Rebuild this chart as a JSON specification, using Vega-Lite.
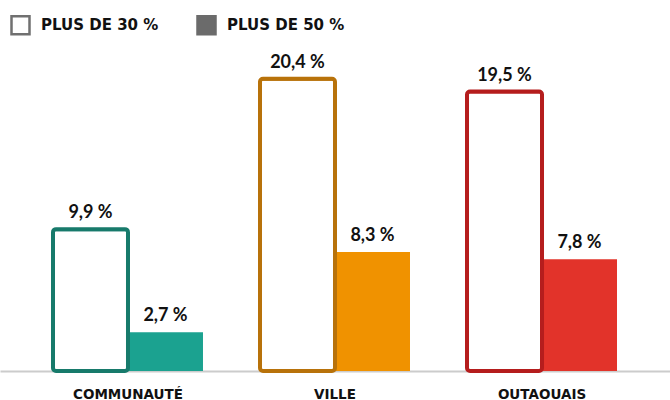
{
  "$schema": "https://vega.github.io/schema/vega-lite/v6.json",
  "width": 670,
  "height": 331,
  "autosize": {"type": "none"},
  "padding": {"left": 0, "right": 0, "top": 40, "bottom": 29},
  "background": "white",
  "config": {"view": {"stroke": null}},
  "data": {
    "values": [
      {"region": "COMMUNAUTÉ", "serie": "PLUS DE 30 %", "valeur": 9.9},
      {"region": "COMMUNAUTÉ", "serie": "PLUS DE 50 %", "valeur": 2.7},
      {"region": "VILLE", "serie": "PLUS DE 30 %", "valeur": 20.4},
      {"region": "VILLE", "serie": "PLUS DE 50 %", "valeur": 8.3},
      {"region": "OUTAOUAIS", "serie": "PLUS DE 30 %", "valeur": 19.5},
      {"region": "OUTAOUAIS", "serie": "PLUS DE 50 %", "valeur": 7.8}
    ]
  },
  "transform": [
    {"calculate": "replace(format(datum.valeur, '.1f'), '.', ',') + ' %'", "as": "etiquette"}
  ],
  "encoding": {
    "x": {
      "field": "region",
      "type": "nominal",
      "sort": ["COMMUNAUTÉ", "VILLE", "OUTAOUAIS"],
      "scale": {"paddingInner": 0.2754, "paddingOuter": 0.256},
      "axis": {
        "title": null,
        "ticks": false,
        "domainColor": "#cccccc",
        "domainWidth": 2,
        "labelFont": "DejaVu Sans",
        "labelFontWeight": "bold",
        "labelFontSize": 13.5,
        "labelColor": "#111111",
        "labelPadding": 16,
        "labelAngle": 0
      }
    },
    "xOffset": {
      "field": "serie",
      "type": "nominal",
      "sort": ["PLUS DE 30 %", "PLUS DE 50 %"],
      "scale": {"paddingInner": 0, "paddingOuter": 0}
    },
    "y": {
      "field": "valeur",
      "type": "quantitative",
      "scale": {"domain": [0, 23.1]},
      "axis": null
    }
  },
  "layer": [
    {
      "transform": [{"filter": "datum.serie == 'PLUS DE 50 %'"}],
      "mark": {"type": "bar"},
      "encoding": {
        "fill": {
          "field": "region",
          "type": "nominal",
          "scale": {"domain": ["COMMUNAUTÉ", "VILLE", "OUTAOUAIS"], "range": ["#1ba290", "#f09200", "#e2332a"]},
          "legend": null
        }
      }
    },
    {
      "transform": [{"filter": "datum.serie == 'PLUS DE 30 %'"}],
      "mark": {"type": "bar", "fill": "white", "strokeWidth": 4, "cornerRadius": 3},
      "encoding": {
        "stroke": {
          "field": "region",
          "type": "nominal",
          "scale": {"domain": ["COMMUNAUTÉ", "VILLE", "OUTAOUAIS"], "range": ["#177a6b", "#b8720a", "#b51d1d"]},
          "legend": null
        }
      }
    },
    {
      "transform": [{"filter": "false"}],
      "mark": {"type": "bar", "strokeWidth": 2.5},
      "encoding": {
        "fill": {
          "field": "serie",
          "type": "nominal",
          "scale": {"domain": ["PLUS DE 30 %", "PLUS DE 50 %"], "range": ["#ffffff", "#6b6b6b"]},
          "legend": {
            "title": null,
            "orient": "none",
            "legendX": 10,
            "legendY": -25.5,
            "direction": "horizontal",
            "symbolType": "square",
            "symbolSize": 324,
            "symbolStrokeWidth": 2.5,
            "symbolOpacity": 1,
            "labelFont": "DejaVu Sans",
            "labelFontWeight": "bold",
            "labelFontSize": 15,
            "labelColor": "#111111",
            "labelOffset": 10,
            "columnPadding": 33
          }
        },
        "stroke": {
          "field": "serie",
          "type": "nominal",
          "scale": {"domain": ["PLUS DE 30 %", "PLUS DE 50 %"], "range": ["#707070", "#6b6b6b"]},
          "legend": {
            "title": null,
            "orient": "none",
            "legendX": 10,
            "legendY": -25.5,
            "direction": "horizontal",
            "symbolType": "square",
            "symbolSize": 324,
            "symbolStrokeWidth": 2.5,
            "symbolOpacity": 1,
            "labelFont": "DejaVu Sans",
            "labelFontWeight": "bold",
            "labelFontSize": 15,
            "labelColor": "#111111",
            "labelOffset": 10,
            "columnPadding": 33
          }
        }
      }
    },
    {
      "mark": {
        "type": "text",
        "font": "Lato",
        "fontWeight": "bold",
        "fontSize": 18,
        "baseline": "alphabetic",
        "dy": -11,
        "color": "#111111"
      },
      "encoding": {"text": {"field": "etiquette", "type": "nominal"}}
    }
  ],
  "resolve": {"scale": {"fill": "independent", "stroke": "independent"}}
}
